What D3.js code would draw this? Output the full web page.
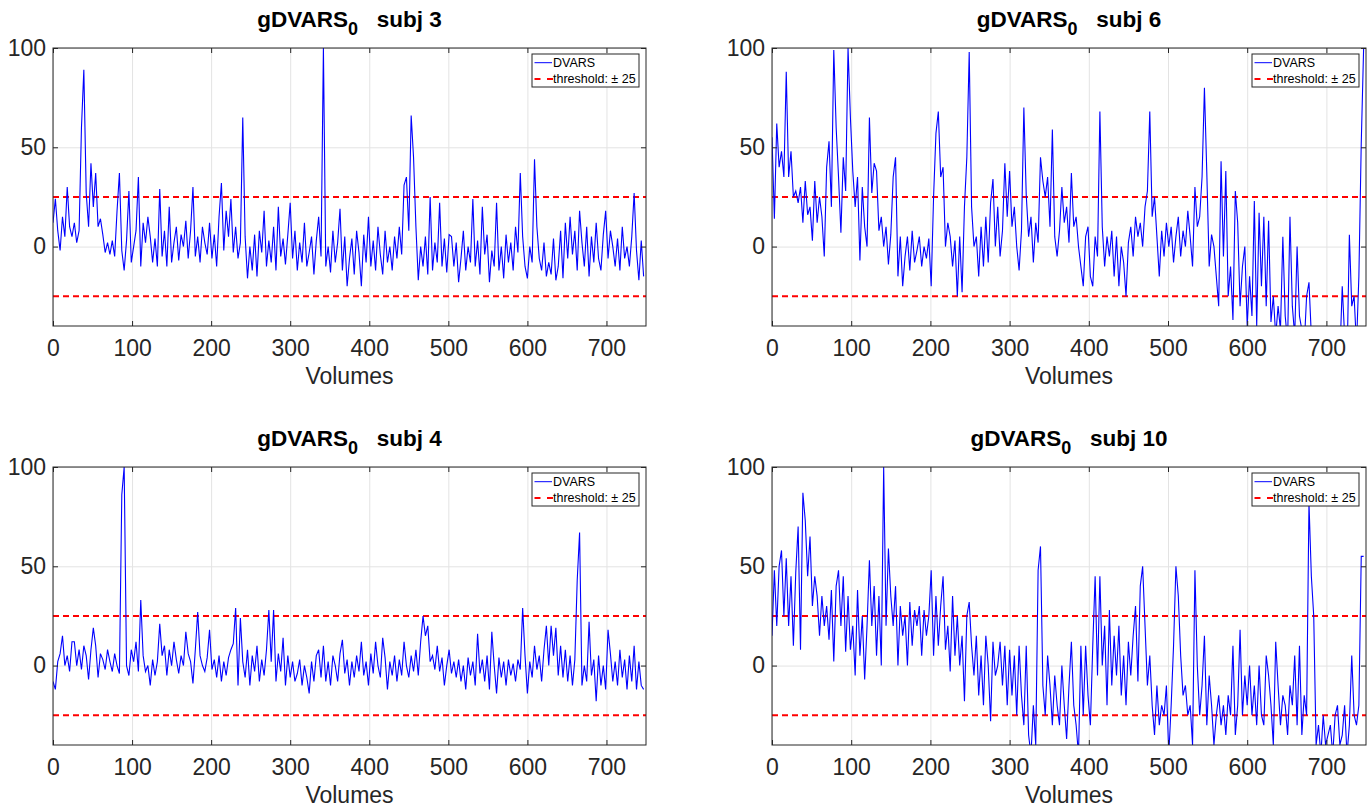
<!DOCTYPE html>
<html>
<head>
<meta charset="utf-8">
<script src="https://cdn.jsdelivr.net/npm/d3@7"></script>
<style>
  body { margin: 0; background: #fff; }
  svg { display: block; font-family: "Liberation Sans", Arial, Helvetica, sans-serif; }
  .title { font-weight: bold; font-size: 22.5px; fill: #000; white-space: pre; }
  .axis text { font-size: 23px; fill: #262626; font-family: "Liberation Sans", Arial, sans-serif; }
  .axis line { stroke: #262626; }
  .grid line { stroke: #e3e3e3; }
  .xlabel { font-size: 23px; fill: #262626; }
  .legend text { font-size: 12.5px; fill: #000; white-space: pre; }
</style>
</head>
<body>
<div id="chart"></div>
<script>
// sampled every 3 volumes
const step = 3;
const xTicks = [0, 100, 200, 300, 400, 500, 600, 700];
const yTicks = [0, 50, 100];
const threshold = 25;

const dvarsSubj3 = [
  12,24,8,-2,15,5,30,10,5,12, 2,8,60,89,27,10,42,20,37,10, 14,6,-3,2,-4,
  3,-5,18,37,-2,-12,3,28,-8,0, 8,35,-10,12,2,15,5,-8,4,-10, 29,-5,8,-10,20,
  -8,2,10,-7,6,0,13,-6,8,30, -5,5,-8,10,2,-4,12,-6,6,-10, 15,32,-2,18,5,
  24,-3,10,-6,2,65,5,-16,0,-12, 6,-15,8,-3,18,-10,3,-8,10,-12, 20,-5,4,-9,6,
  22,-6,8,-12,2,-8,12,-10,-3,5, -14,3,15,-5,100,-10,0,-13,8,-8, 2,19,-12,5,-20,
  -6,4,-14,8,-3,-20,6,-8,15,-10, 3,-12,10,-4,-14,8,-8,0,-12,5, -6,10,-4,31,35,
  8,66,45,10,-17,0,-10,5,-14,25, -12,2,-8,22,-10,4,-13,6,5,-10, 2,-18,-6,8,-12,
  0,-8,24,-10,3,-14,20,-4,6,-18, -2,-10,22,-12,0,-16,6,-8,2,-12, 10,-3,37,5,-10,
  -16,0,-8,44,10,-6,-12,2,-15,-8, -14,4,-17,-10,8,-16,12,-6,15,-4, 8,-12,18,2,-10,
  10,-15,5,-8,12,-6,-12,6,18,-6, 8,0,-10,4,-12,10,-6,0,-10,5, 27,-2,-17,3,-15
];

const dvarsSubj6 = [
  55,14,62,40,48,35,88,35,48,25, 28,22,30,12,33,16,20,3,33,12, 25,15,-5,40,53,
  20,99,60,35,7,45,28,100,65,38, 20,35,-7,30,10,0,65,27,42,38, 8,15,0,10,-9,
  6,35,45,-15,5,-20,-5,5,-12,8, -8,-2,5,-10,0,-6,4,-20,25,57, 68,35,40,0,12,
  5,-10,3,-25,5,-23,20,45,98,20, 0,5,-15,10,-10,15,-8,22,34,0, 20,-5,8,42,15,
  38,10,20,0,-12,8,70,26,5,15, -8,12,2,45,33,25,35,10,59,5, -5,8,30,12,20,
  2,37,10,15,0,-10,-20,5,10,-15, -20,5,-5,68,10,-10,5,-5,8,-15, 5,-20,0,-8,-25,
  2,10,-5,15,5,12,0,20,28,68, 15,25,5,-15,8,-5,12,0,10,-8, 5,15,-5,8,0,
  18,5,-10,30,10,15,35,80,37,-10, 6,0,-15,-30,43,-5,38,-25,-10,-37, 28,12,-30,-10,0,
  -40,-15,-35,23,-40,17,-20,15,-30,13, -38,-25,-45,-30,-42,5,-35,-48,15,-30, -45,0,-35,-42,-50,
  -25,-18,-45,-60,-55,-70,-65,-80,-60,-75, -70,-65,-80,-60,-55,-20,-45,-60,6,-30, -25,-50,-15,52,100
];

const dvarsSubj4 = [
  -8,-12,2,6,15,0,5,-3,12,12, 0,8,-2,10,5,-7,8,19,10,-6, 6,3,-2,8,2,
  -3,6,0,-4,86,100,0,-5,8,2, 12,-3,33,5,-3,0,-10,3,-5,2, 21,5,10,-5,8,
  0,12,3,-4,5,0,17,6,2,-9, 8,27,5,0,-3,4,18,-2,3,-6, 5,-8,2,-5,4,
  8,11,29,-10,24,2,-6,8,-10,5, -3,10,-8,3,-5,8,28,2,28,-8, 6,-3,14,-10,5,
  -6,2,-8,-4,3,-10,0,-6,-14,2, -8,5,8,-6,10,-8,2,-10,5,0, -8,6,13,-4,3,
  -10,2,-6,5,-3,12,-5,2,-10,6, -4,12,0,-6,14,4,-12,2,-5,5, -8,3,-5,12,0,
  -6,5,-3,8,-5,12,25,15,20,2, 5,-2,10,-3,4,-10,0,8,-4,2, -6,3,-8,0,-12,
  4,-5,2,-10,16,-4,3,-8,5,-12, 17,0,-14,4,-6,2,-10,3,-5,1, -8,3,-2,29,5,
  -14,2,-6,10,-2,5,-8,8,20,0, 20,5,19,-5,10,-6,8,-8,5,-10, 3,43,67,-10,0,
  -8,22,-5,3,-18,5,-10,0,-12,18, 6,-8,2,-10,8,-6,3,-12,5,-8, 10,-12,2,-10,-12
];

const dvarsSubj10 = [
  15,48,20,50,58,25,54,20,45,10, 47,70,8,87,73,45,65,30,45,35, 15,35,20,30,13,
  38,2,40,48,20,45,7,35,8,20, -5,38,5,25,-7,20,53,20,40,5, 35,0,100,20,59,
  35,20,40,0,30,15,25,0,32,10, 28,20,30,5,28,15,25,48,5,35, 10,30,45,8,20,
  -3,35,5,25,0,15,-18,25,32,10, -5,15,-15,5,-20,15,0,-28,12,-5, 0,12,-10,10,-20,
  8,-15,5,-25,10,-15,-30,10,-35,-45, -20,-40,48,60,-10,-25,5,-10,-30,-5, -20,-30,0,-20,-37,
  -10,12,-20,-30,-45,10,-25,10,-15,-30, 10,45,-5,45,0,20,-20,28,-10,15, -5,20,-15,5,-20,
  12,-5,15,30,-8,40,50,20,-10,5, -20,-35,-10,-30,-20,-25,-10,-45,-20,10, 50,35,5,-15,-10,
  -25,-20,-40,48,0,-25,-10,15,-30,-5, -20,-40,-25,-15,-30,-20,-35,-15,-25,10, -35,-20,18,-25,-5,
  -20,0,-25,-10,-30,0,-25,-30,5,-5, -20,-40,12,-10,-30,-15,-20,-35,-10,-20, 5,-30,10,-35,-15,
  -25,82,45,25,-40,-30,-45,-25,-40,-35, -30,-45,-25,-20,-40,-35,-20,-45,-30,5, -25,-30,-20,55,55
];

const subjects = [3, 6, 4, 10];
const seriesList = [dvarsSubj3, dvarsSubj6, dvarsSubj4, dvarsSubj10];

class DvarsPanel {
  constructor(_config, _data) {
    this.config = {
      parent: _config.parent,
      id: _config.id,
      left: _config.left,
      top: _config.top,
      width: _config.width || 593,
      height: _config.height || 278,
      subject: _config.subject
    };
    this.data = _data;
    this.initVis();
  }

  initVis() {
    let vis = this;
    const w = vis.config.width, h = vis.config.height;

    vis.g = vis.config.parent.append('g')
      .attr('transform', `translate(${vis.config.left},${vis.config.top})`);

    vis.xScale = d3.scaleLinear().domain([0, 750]).range([0, w]);
    vis.yScale = d3.scaleLinear().domain([-40, 100]).range([h, 0]);

    // grid
    vis.g.append('g').attr('class', 'grid')
      .attr('transform', `translate(0,${h})`)
      .call(d3.axisBottom(vis.xScale).tickValues(xTicks).tickSize(-h).tickFormat(''))
      .call(g => g.select('.domain').remove());
    vis.g.append('g').attr('class', 'grid')
      .call(d3.axisLeft(vis.yScale).tickValues(yTicks).tickSize(-w).tickFormat(''))
      .call(g => g.select('.domain').remove());

    // threshold lines
    vis.g.selectAll('.thr').data([threshold, -threshold]).join('line')
      .attr('class', 'thr')
      .attr('x1', 0).attr('x2', w)
      .attr('y1', d => vis.yScale(d)).attr('y2', d => vis.yScale(d))
      .attr('stroke', '#ff0000').attr('stroke-width', 2)
      .attr('stroke-dasharray', '6,4');

    // clip
    vis.g.append('clipPath').attr('id', 'clip' + vis.config.id)
      .append('rect').attr('width', w).attr('height', h);

    const line = d3.line()
      .x((d, i) => vis.xScale(i * step))
      .y(d => vis.yScale(d));

    vis.g.append('path')
      .datum(vis.data)
      .attr('clip-path', `url(#clip${vis.config.id})`)
      .attr('fill', 'none')
      .attr('stroke', '#0000ff')
      .attr('stroke-width', 1.1)
      .attr('d', line);

    // axes (ticks pointing in, MATLAB style)
    vis.g.append('g').attr('class', 'axis')
      .attr('transform', `translate(0,${h})`)
      .call(d3.axisBottom(vis.xScale).tickValues(xTicks).tickSize(-5).tickPadding(13.5))
      .call(g => g.select('.domain').remove());
    vis.g.append('g').attr('class', 'axis')
      .call(d3.axisTop(vis.xScale).tickValues(xTicks).tickSize(-5).tickFormat(''))
      .call(g => g.select('.domain').remove());
    vis.g.append('g').attr('class', 'axis')
      .call(d3.axisLeft(vis.yScale).tickValues(yTicks).tickSize(-5).tickPadding(7))
      .call(g => g.select('.domain').remove());
    vis.g.append('g').attr('class', 'axis')
      .attr('transform', `translate(${w},0)`)
      .call(d3.axisRight(vis.yScale).tickValues(yTicks).tickSize(-5).tickFormat(''))
      .call(g => g.select('.domain').remove());

    vis.g.append('rect')
      .attr('width', w).attr('height', h)
      .attr('fill', 'none').attr('stroke', '#262626').attr('stroke-width', 1);

    // title
    const title = vis.g.append('text').attr('class', 'title')
      .attr('x', w / 2).attr('y', -21.5).attr('text-anchor', 'middle');
    title.append('tspan').text('gDVARS');
    title.append('tspan').attr('dy', 8).attr('font-size', '18px').text('0');
    title.append('tspan').attr('dy', -8).text('   subj ' + vis.config.subject);

    vis.g.append('text').attr('class', 'xlabel')
      .attr('x', w / 2).attr('y', h + 58).attr('text-anchor', 'middle')
      .text('Volumes');

    // legend
    const lw = 107, lh = 33;
    const lg = vis.g.append('g').attr('class', 'legend')
      .attr('transform', `translate(${w - 7 - lw},6)`);
    lg.append('rect').attr('width', lw).attr('height', lh)
      .attr('fill', '#fff').attr('stroke', '#262626').attr('stroke-width', 1);
    lg.append('line').attr('x1', 2.5).attr('x2', 20).attr('y1', 8.7).attr('y2', 8.7)
      .attr('stroke', '#0000ff').attr('stroke-width', 1);
    lg.append('text').attr('x', 21).attr('y', 13).text('DVARS');
    lg.append('line').attr('x1', 2.5).attr('x2', 21).attr('y1', 25).attr('y2', 25)
      .attr('stroke', '#ff0000').attr('stroke-width', 2).attr('stroke-dasharray', '6,6.5');
    lg.append('text').attr('x', 21).attr('y', 29.3).text('threshold: \u00b1 25');
  }
}

const svg = d3.select('#chart').append('svg')
  .attr('width', 1367).attr('height', 809);

const positions = [
  {left: 53, top: 48}, {left: 772, top: 48},
  {left: 53, top: 467}, {left: 772, top: 467}
];

subjects.forEach((s, i) => {
  new DvarsPanel({
    parent: svg, id: i, left: positions[i].left, top: positions[i].top,
    width: i % 2 === 0 ? 593 : 594, subject: s
  }, seriesList[i]);
});
</script>
</body>
</html>
